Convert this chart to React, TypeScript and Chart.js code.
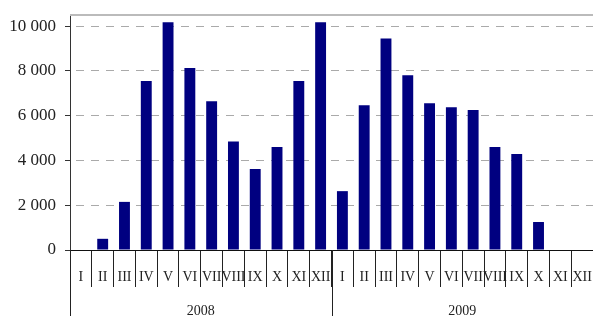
import React, { useEffect, useRef } from "react";
import { Chart, registerables } from "chart.js";

Chart.register(...registerables);

const months = ["I", "II", "III", "IV", "V", "VI", "VII", "VIII", "IX", "X", "XI", "XII"];
const years = ["2008", "2009"];
const values2008 = [0, 500, 2150, 7550, 10180, 8130, 6650, 4850, 3620, 4600, 7550, 10180];
const values2009 = [2630, 6470, 9450, 7810, 6560, 6380, 6250, 4600, 4290, 1250, null, null];
const yTicks = [0, 2000, 4000, 6000, 8000, 10000];

const FONT = "'Liberation Serif', 'Times New Roman', serif";

const fmt = (v: number) => {
  const s = String(Math.round(v));
  return s.replace(/\B(?=(\d{3})+(?!\d))/g, " ");
};

const yearPlugin = {
  id: "yearPlugin",
  afterDraw(chart: any) {
    const { ctx, chartArea } = chart;
    const x = chart.scales.x;
    const h = chart.height;
    ctx.save();
    ctx.strokeStyle = "#bbbbbb";
    ctx.lineWidth = 2;
    ctx.beginPath();
    ctx.moveTo(chartArea.left, chartArea.top);
    ctx.lineTo(chartArea.right, chartArea.top);
    ctx.stroke();
    ctx.strokeStyle = "#222";
    ctx.lineWidth = 1;
    const n = months.length;
    const seps: number[] = [chartArea.left];
    for (let g = 1; g < years.length; g++) {
      seps.push((x.getPixelForValue(g * n - 1) + x.getPixelForValue(g * n)) / 2);
    }
    seps.forEach((sx) => {
      const px = Math.round(sx) + 0.5;
      ctx.beginPath();
      ctx.moveTo(px, chartArea.bottom);
      ctx.lineTo(px, h);
      ctx.stroke();
    });
    ctx.fillStyle = "#222";
    ctx.font = `14px ${FONT}`;
    ctx.textAlign = "center";
    ctx.textBaseline = "middle";
    years.forEach((yr, g) => {
      const a = x.getPixelForValue(g * n);
      const b = x.getPixelForValue(g * n + n - 1);
      ctx.fillText(yr, (a + b) / 2, 311);
    });
    ctx.restore();
  },
};

export default function App() {
  const ref = useRef<HTMLCanvasElement | null>(null);
  useEffect(() => {
    if (!ref.current) return;
    const labels = [...months, ...months];
    const data = [...values2008, ...values2009];
    const chart = new Chart(ref.current, {
      type: "bar",
      data: {
        labels,
        datasets: [
          {
            data,
            backgroundColor: "#000080",
            borderWidth: 0,
            barPercentage: 0.5,
            categoryPercentage: 1,
          },
        ],
      },
      options: {
        responsive: false,
        animation: false,
        devicePixelRatio: 1,
        layout: { padding: { top: 15, left: 0, right: 0, bottom: 0 } },
        plugins: { legend: { display: false }, tooltip: { enabled: false } },
        scales: {
          x: {
            offset: true,
            grid: {
              offset: true,
              drawOnChartArea: false,
              tickLength: 37,
              color: "#222",
              tickColor: "#222",
            },
            border: { display: true, color: "#111", width: 1 },
            ticks: {
              autoSkip: false,
              maxRotation: 0,
              minRotation: 0,
              padding: -18,
              color: "#222",
              font: { family: FONT, size: 14 },
            },
            afterFit: (s: any) => {
              s.height = 66;
              s.paddingLeft = 0;
              s.paddingRight = 0;
              s.paddingTop = 0;
              s.paddingBottom = 0;
            },
          },
          y: {
            min: 0,
            max: 10500,
            afterBuildTicks: (s: any) => {
              s.ticks = yTicks.map((v) => ({ value: v }));
            },
            grid: {
              drawTicks: true,
              tickLength: 5,
              tickColor: "#333",
              tickBorderDash: [],
              color: (c: any) => (c.tick && c.tick.value === 0 ? "rgba(0,0,0,0)" : "#aaaaaa"),
              lineWidth: 1,
            },
            border: { display: true, color: "#333", width: 1, dash: [8, 7], dashOffset: 10 },
            ticks: {
              padding: 9,
              color: "#222",
              font: { family: FONT, size: 17 },
              callback: (v: any) => fmt(Number(v)),
            },
            afterFit: (s: any) => {
              s.width = 70;
              s.paddingTop = 0;
              s.paddingBottom = 0;
              s.paddingLeft = 0;
              s.paddingRight = 0;
            },
          },
        },
      },
      plugins: [yearPlugin],
    });
    return () => chart.destroy();
  }, []);
  return (
    <div style={{ position: "absolute", left: 0, top: 0, width: 593, height: 316 }}>
      <canvas ref={ref} width={593} height={316} />
    </div>
  );
}
